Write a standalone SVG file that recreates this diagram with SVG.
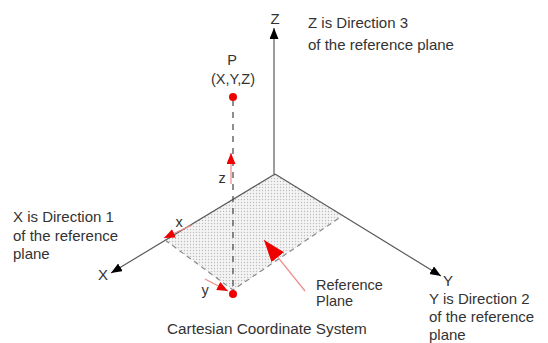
<svg xmlns="http://www.w3.org/2000/svg" width="548" height="343" viewBox="0 0 548 343">
<style>
text{font-family:"Liberation Sans",Arial,sans-serif;fill:#333;}
.lbl{font-size:15px;}
.ax{font-size:15px;}
.sm{font-size:14.5px;}
.cap{font-size:15.3px;}
.axis{stroke:#5a5a5a;stroke-width:1.2;fill:none;}
.edge{stroke:#888;stroke-width:1.2;stroke-dasharray:5 4;fill:none;}
.proj{stroke:#444;stroke-width:1.2;stroke-dasharray:6 6;fill:none;}
.rs{stroke:#f08a8a;stroke-width:1.2;fill:none;}
</style>
<defs>
<pattern id="dots" width="3" height="3" patternUnits="userSpaceOnUse">
<rect width="3" height="3" fill="#f4f4f4"/>
<circle cx="1.5" cy="1.5" r="0.7" fill="#bcbcbc"/>
</pattern>
<marker id="blk" markerUnits="userSpaceOnUse" markerWidth="12" markerHeight="10" refX="11" refY="4.5" orient="auto">
<path d="M0,0 L11,4.5 L0,9 z" fill="#000"/>
</marker>
<marker id="red" markerUnits="userSpaceOnUse" markerWidth="12" markerHeight="10" refX="11" refY="4.5" orient="auto">
<path d="M0,0 L11,4.5 L0,9 z" fill="#e00"/>
</marker>
<marker id="redbig" markerUnits="userSpaceOnUse" markerWidth="24" markerHeight="18" refX="22" refY="8" orient="auto">
<path d="M0,0 L22,8 L0,16 z" fill="#e00"/>
</marker>
</defs>
<rect width="548" height="343" fill="#fff"/>

<g id="plane">
<path d="M275,174 L165,240 L233,290 L342,216 z" fill="url(#dots)"/>
</g>

<g id="connectors">
<line class="axis" x1="274" y1="174" x2="274" y2="28" marker-end="url(#blk)"/>
<line class="axis" x1="275" y1="174" x2="111" y2="273" marker-end="url(#blk)"/>
<line class="axis" x1="275" y1="174" x2="441" y2="276" marker-end="url(#blk)"/>
<path class="edge" d="M165,240 L233,290 L342,216"/>
<line class="proj" x1="233" y1="100" x2="233" y2="293"/>
<line class="rs" x1="231" y1="184" x2="231" y2="153" marker-end="url(#red)"/>
<line class="rs" x1="192" y1="225" x2="164" y2="238" marker-end="url(#red)"/>
<line class="rs" x1="205" y1="279" x2="228" y2="291" marker-end="url(#red)"/>
<line class="rs" x1="305" y1="291" x2="264" y2="240" marker-end="url(#redbig)"/>
</g>

<g id="point-P">
<circle cx="233" cy="97" r="4" fill="#e00"/>
<text class="sm" x="232" y="65" text-anchor="middle">P</text>
<text class="sm" x="233" y="84" text-anchor="middle">(X,Y,Z)</text>
</g>
<g id="point-foot">
<circle cx="233" cy="294" r="4" fill="#e00"/>
</g>

<g id="axis-Z">
<text class="ax" x="275" y="24" text-anchor="middle">Z</text>
<text class="lbl" x="308" y="28">Z is Direction 3</text>
<text class="lbl" x="308" y="50">of the reference plane</text>
</g>
<g id="axis-X">
<text class="ax" x="103" y="280" text-anchor="middle">X</text>
<text class="lbl" x="13" y="222">X is Direction 1</text>
<text class="lbl" x="13" y="241">of the reference</text>
<text class="lbl" x="13" y="259">plane</text>
</g>
<g id="axis-Y">
<text class="ax" x="448" y="286" text-anchor="middle">Y</text>
<text class="lbl" x="429" y="304">Y is Direction 2</text>
<text class="lbl" x="429" y="322">of the reference</text>
<text class="lbl" x="429" y="340">plane</text>
</g>
<g id="small-labels">
<text class="sm" x="222" y="183" text-anchor="middle">z</text>
<text class="sm" x="179" y="227" text-anchor="middle">x</text>
<text class="sm" x="205" y="295" text-anchor="middle">y</text>
</g>
<g id="ref-plane-label">
<text class="sm" x="316" y="290">Reference</text>
<text class="sm" x="316" y="306">Plane</text>
</g>
<g id="caption">
<text class="cap" x="167" y="334">Cartesian Coordinate System</text>
</g>
</svg>
